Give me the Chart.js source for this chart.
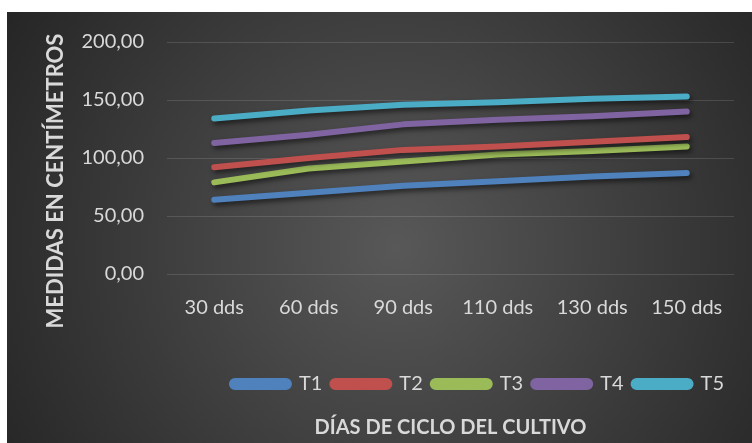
<!DOCTYPE html>
<html lang="es">
<head>
  <meta charset="UTF-8">
  <title>Medidas en centímetros</title>
  <script src="https://cdn.jsdelivr.net/npm/chart.js"></script>
  <style>
    body {
      margin: 0;
      background: #ffffff;
    }
    .wrap {
      position: absolute;
      left: 7px;
      top: 12px;
      width: 745px;
      height: 431px;
    }
  </style>
</head>
<body>
  <div class="wrap">
    <canvas id="chart"></canvas>
  </div>

  <script>
    const categories = ["30 dds", "60 dds", "90 dds", "110 dds", "130 dds", "150 dds"];
    const t1 = [64, 70, 76, 80, 84, 87];
    const t2 = [92, 100, 107, 110, 114, 118];
    const t3 = [79, 91, 97, 103, 106, 110];
    const t4 = [113, 120, 129, 133, 136, 140];
    const t5 = [134, 141, 146, 148, 151, 153];
    const yTicks = [0, 50, 100, 150, 200];
    const yTitle = "MEDIDAS EN CENTÍMETROS";
    const xTitle = "DÍAS DE CICLO DEL CULTIVO";

    const textColor = "#d9d9d9";
    const fontFamily = "Lato, 'Open Sans', sans-serif";

    function serie(label, data, color) {
      return {
        label: label,
        data: data,
        borderColor: color,
        backgroundColor: color,
        borderWidth: 6,
        borderCapStyle: "round",
        borderJoinStyle: "round",
        pointRadius: 0,
        tension: 0
      };
    }

    // dark radial background
    const background = {
      id: "background",
      beforeDraw(chart) {
        const ctx = chart.ctx;
        const g = ctx.createRadialGradient(390, 235, 0, 390, 235, 470);
        g.addColorStop(0, "#585858");
        g.addColorStop(1, "#242424");
        ctx.save();
        ctx.fillStyle = g;
        ctx.fillRect(0, 0, chart.width, chart.height);
        ctx.restore();
      }
    };

    // soft shadow under the lines
    const shadow = {
      id: "shadow",
      beforeDatasetsDraw(chart) {
        const ctx = chart.ctx;
        ctx.save();
        ctx.shadowColor = "rgba(0,0,0,0.55)";
        ctx.shadowBlur = 5;
        ctx.shadowOffsetX = 2;
        ctx.shadowOffsetY = 3;
      },
      afterDatasetsDraw(chart) {
        chart.ctx.restore();
      }
    };

    // vertical axis title sits a bit lower than the plot centre
    const verticalTitle = {
      id: "verticalTitle",
      afterDraw(chart) {
        const ctx = chart.ctx;
        ctx.save();
        ctx.translate(49, 169);
        ctx.rotate(-Math.PI / 2);
        ctx.fillStyle = textColor;
        ctx.font = "bold 22px " + fontFamily;
        ctx.textAlign = "center";
        ctx.textBaseline = "middle";
        ctx.fillText(yTitle, 0, 0);
        ctx.restore();
      }
    };

    new Chart(document.getElementById("chart"), {
      type: "line",
      data: {
        labels: categories,
        datasets: [
          serie("T1", t1, "#4f81bd"),
          serie("T2", t2, "#c0504d"),
          serie("T3", t3, "#9bbb59"),
          serie("T4", t4, "#8064a2"),
          serie("T5", t5, "#4bacc6")
        ]
      },
      options: {
        responsive: true,
        maintainAspectRatio: false,
        animation: false,
        layout: {
          padding: { top: 30, right: 18, left: 30, bottom: 3 }
        },
        plugins: {
          legend: {
            position: "bottom",
            align: "end",
            labels: {
              color: textColor,
              font: { family: fontFamily, size: 20 },
              boxWidth: 57,
              boxHeight: 6,
              useBorderRadius: true,
              borderRadius: 3,
              padding: 10
            }
          },
          tooltip: { enabled: false }
        },
        scales: {
          x: {
            offset: true,
            grid: { display: false },
            border: { display: false },
            ticks: {
              color: textColor,
              font: { family: fontFamily, size: 20 },
              padding: 14,
              maxRotation: 0
            },
            afterFit(scale) { scale.height = 90; }
          },
          // second bottom axis only carries the title, below the legend
          xTitle: {
            type: "category",
            position: "bottom",
            weight: 2000,
            offset: true,
            grid: { display: false },
            border: { display: false },
            ticks: { display: false },
            title: {
              display: true,
              text: xTitle,
              color: textColor,
              font: { family: fontFamily, size: 20, weight: "bold" },
              padding: { top: 4, bottom: 0 }
            }
          },
          y: {
            min: 0,
            max: 200,
            afterBuildTicks(scale) {
              scale.ticks = yTicks.map(v => ({ value: v }));
            },
            grid: {
              color: "rgba(255,255,255,0.13)",
              lineWidth: 1,
              drawTicks: false
            },
            border: { display: false },
            ticks: {
              color: textColor,
              font: { family: fontFamily, size: 20 },
              padding: 23,
              callback: v => v.toFixed(2).replace(".", ",")
            },
            afterFit(scale) {
              scale.width = 130;
              scale.paddingTop = 0;
              scale.paddingBottom = 0;
            }
          }
        }
      },
      plugins: [background, shadow, verticalTitle]
    });
  </script>
</body>
</html>
